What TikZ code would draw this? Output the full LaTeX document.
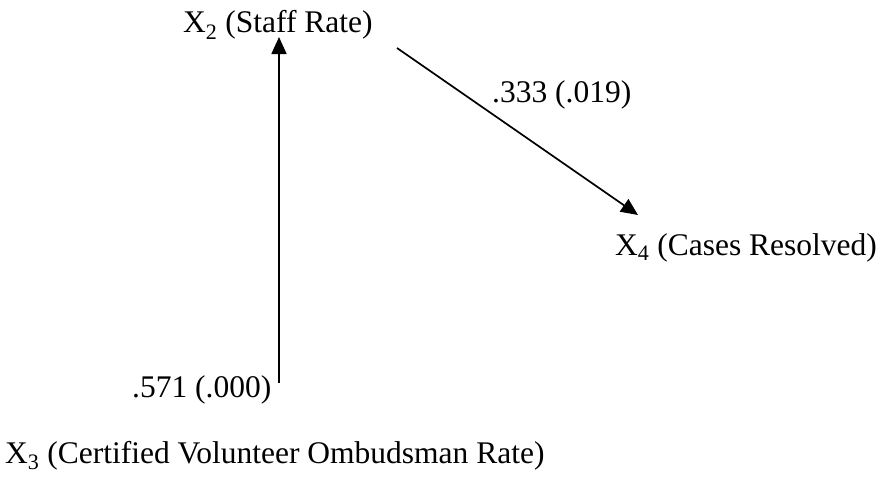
\documentclass[tikz,border=0pt]{standalone}
\usepackage{fontspec}
\setmainfont{Liberation Serif}
\usetikzlibrary{arrows.meta}
\begin{document}
\begin{tikzpicture}[x=1pt,y=-1pt,
  lbl/.style={anchor=base west,inner sep=0pt,font=\fontsize{31.5}{36}\selectfont},
  link/.style={line width=1.7pt,-{Triangle[length=17pt,width=15pt]}}]
\useasboundingbox (0,0) rectangle (882,487);
\node[lbl] (x2) at (183,33) {X\textsubscript{2} (Staff Rate)};
\node[lbl] (x4) at (615,255) {X\textsubscript{4} (Cases Resolved)};
\node[lbl] (x3) at (5,463) {X\textsubscript{3} (Certified Volunteer Ombudsman Rate)};
\node[lbl] (l1) at (492,102) {.333 (.019)};
\node[lbl] (l2) at (132,397) {.571 (.000)};
\coordinate (v0) at (279,383);
\coordinate (v1) at (279,37);
\coordinate (d0) at (397,48);
\coordinate (d1) at (638,215);
\draw[link] (v0) -- (v1);
\draw[link] (d0) -- (d1);
\end{tikzpicture}
\end{document}
